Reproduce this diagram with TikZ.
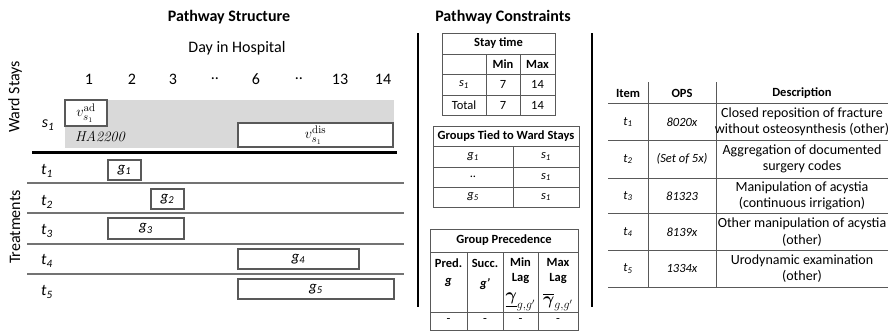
\documentclass[tikz,border=0pt]{standalone}
\usepackage{amsmath, amssymb}
\usepackage{bm}
\usepackage[no-math]{fontspec}
\setmainfont{Carlito}
\usepackage{xcolor}
\usepackage{tikz}
\usetikzlibrary{positioning}
\definecolor{staygray}{gray}{0.85}
\definecolor{boxgray}{gray}{0.35}
\definecolor{rulegray}{gray}{0.45}
\newcommand{\itsub}[2]{\textit{#1}\textsubscript{\textit{#2}}}

\begin{document}
\begin{tikzpicture}[x=1pt, y=-1pt,
		hd/.style={font=\fontsize{16}{19}\selectfont\bfseries},
		lbl/.style={font=\fontsize{16}{19}\selectfont},
		cell/.style={font=\fontsize{12.5}{17}\selectfont, align=center, inner sep=0pt},
		desccell/.style={font=\fontsize{14}{16.5}\selectfont, align=center, inner sep=0pt},
		cellhd/.style={font=\fontsize{12.5}{15}\selectfont\bfseries, align=center, inner sep=0pt},
		gbox/.style={draw=boxgray, line width=1.2pt, fill=white, inner sep=0pt, font=\fontsize{15}{18}\selectfont},
		tabline/.style={draw=boxgray, line width=1pt},
		sepline/.style={draw=rulegray, line width=1.2pt},
		bigline/.style={draw=black, line width=2.4pt}]
		\useasboundingbox (0,0) rectangle (889,332);

		% --- Titles ---
		\node[hd] (structtitle) at (229,17) {Pathway Structure};
		\node[hd] (constrtitle) at (503,17) {Pathway Constraints};
		\node[lbl] (daytitle) at (237,48) {Day in Hospital};
		\node[lbl, rotate=90] (wardlbl) at (15,97) {Ward Stays};
		\node[lbl, rotate=90] (treatlbl) at (15,227) {Treatments};

		% --- Day numbers ---
		\foreach \d/\x in {1/89, 2/132, 3/173, ../215, 6/256, ../299, 13/340, 14/383}
			\node[lbl] (day\x) at (\x,79) {\d};

		% --- Ward stay s_1 ---
		\fill[staygray] (65,100) rectangle (394,148);
		\node[lbl] (s1) at (48,125) {\itsub{s}{1}};
		\node[gbox, minimum width=42pt, minimum height=26pt] (vad) at (86,113) {$v_{s_1}^{\mathrm{ad}}$};
		\node[gbox, minimum width=155pt, minimum height=24pt] (vdis) at (315.5,135) {$v_{s_1}^{\mathrm{dis}}$};
		\node[font=\fontsize{15}{18}\selectfont] (ha) at (101,137) {$\mathit{HA2200}$};
		\draw[bigline] (32,152.5) -- (397,152.5);

		% --- Treatment rows ---
		\foreach \y in {183, 213, 244, 274}
			\draw[sepline] (27,\y) -- (404,\y);
		\foreach \i/\y in {1/171, 2/202, 3/231, 4/261, 5/292}
			\node[lbl] (t\i) at (47,\y) {\itsub{t}{\i}};

		% --- Treatment groups ---
		\node[gbox, minimum width=33pt, minimum height=20pt] (g1) at (124.5,170) {\itsub{g}{1}};
		\node[gbox, minimum width=33pt, minimum height=20pt] (g2) at (167.5,199) {\itsub{g}{2}};
		\node[gbox, minimum width=76pt, minimum height=21pt] (g3) at (146,228.5) {\itsub{g}{3}};
		\node[gbox, minimum width=121pt, minimum height=20pt] (g4) at (298.5,259) {\itsub{g}{4}};
		\node[gbox, minimum width=156pt, minimum height=20pt] (g5) at (316,289) {\itsub{g}{5}};

		% --- Separators ---
		\draw[bigline] (418,33) -- (418,307);
		\draw[bigline] (592,33) -- (592,307);

		% --- Stay time table ---
		\draw[tabline] (442,33) rectangle (555,115);
		\foreach \y in {54, 74, 95}
			\draw[tabline] (442,\y) -- (555,\y);
		\draw[tabline] (486,54) -- (486,115);
		\draw[tabline] (520,54) -- (520,115);
		\node[cellhd] (stayhd) at (498.5,43.5) {Stay time};
		\node[cellhd] (minhd) at (503,64) {Min};
		\node[cellhd] (maxhd) at (537.5,64) {Max};
		\node[cell] (stays1) at (464,84.5) {\itsub{s}{1}};
		\node[cell] (staymin) at (503,84.5) {7};
		\node[cell] (staymax) at (537.5,84.5) {14};
		\node[cell] (total) at (464,105) {Total};
		\node[cell] (totmin) at (503,105) {7};
		\node[cell] (totmax) at (537.5,105) {14};

		% --- Groups tied to ward stays ---
		\draw[tabline] (433,126) rectangle (579,207);
		\foreach \y in {146, 167, 187}
			\draw[tabline] (433,\y) -- (579,\y);
		\draw[tabline] (513,146) -- (513,207);
		\node[cellhd] (tiedhd) at (506,136) {Groups Tied to Ward Stays};
		\node[cell] (tg1) at (473,156.5) {\itsub{g}{1}};
		\node[cell] (ts1) at (546,156.5) {\itsub{s}{1}};
		\node[cell] (tdots) at (473,177) {..};
		\node[cell] (ts2) at (546,177) {\itsub{s}{1}};
		\node[cell] (tg5) at (473,197) {\itsub{g}{5}};
		\node[cell] (ts3) at (546,197) {\itsub{s}{1}};

		% --- Group precedence table ---
		\draw[tabline] (430,229) rectangle (578,330);
		\draw[tabline] (430,252) -- (578,252);
		\draw[tabline] (430,312) -- (578,312);
		\foreach \x in {467, 503, 538}
			\draw[tabline] (\x,252) -- (\x,330);
		\node[cellhd] (prechd) at (504,240.5) {Group Precedence};
		\node[cellhd] (pred) at (448.5,263) {Pred.};
		\node[cellhd] (predg) at (448.5,282) {\textit{g}};
		\node[cellhd] (succ) at (485,263) {Succ.};
		\node[cellhd] (succg) at (485,284) {\textit{g’}};
		\node[cellhd] (minlag) at (520.5,271) {Min\\Lag};
		\node[cellhd] (maxlag) at (558,271) {Max\\Lag};
		\node[font=\fontsize{17}{19}\selectfont, inner sep=0pt] (gmin) at (520.5,302) {$\underline{\bm{\gamma}}_{g,g'}$};
		\node[font=\fontsize{17}{19}\selectfont, inner sep=0pt] (gmax) at (558,302) {$\overline{\bm{\gamma}}_{g,g'}$};
		\foreach \x in {448.5, 485, 520.5, 558}
			\node[cell] (dash\x) at (\x,321) {-};

		% --- Item table ---
		\draw[tabline] (648,82) -- (648,287);
		\draw[tabline] (716,82) -- (716,287);
		\foreach \y in {103, 140, 178, 213, 250, 287}
			\draw[tabline] (608,\y) -- (888,\y);
		\node[cellhd] (itemhd) at (628,93) {Item};
		\node[cellhd] (opshd) at (682,93) {OPS};
		\node[cellhd] (deschd) at (802,93) {Description};
		\foreach \i/\y/\ops/\desc in {
			1/122/8020x/{Closed reposition of fracture\\without osteosynthesis (other)},
			2/159/(Set of 5x)/{Aggregation of documented\\surgery codes},
			3/196/81323/{Manipulation of acystia\\(continuous irrigation)},
			4/232/8139x/{Other manipulation of acystia\\(other)},
			5/268.5/1334x/{Urodynamic examination\\(other)}} {
			\node[cell] (item\i) at (628,\y) {\itsub{t}{\i}};
			\node[cell] (ops\i) at (682,\y) {\textit{\ops}};
			\node[desccell] (desc\i) at (802,\y) {\desc};
		}
\end{tikzpicture}
\end{document}
